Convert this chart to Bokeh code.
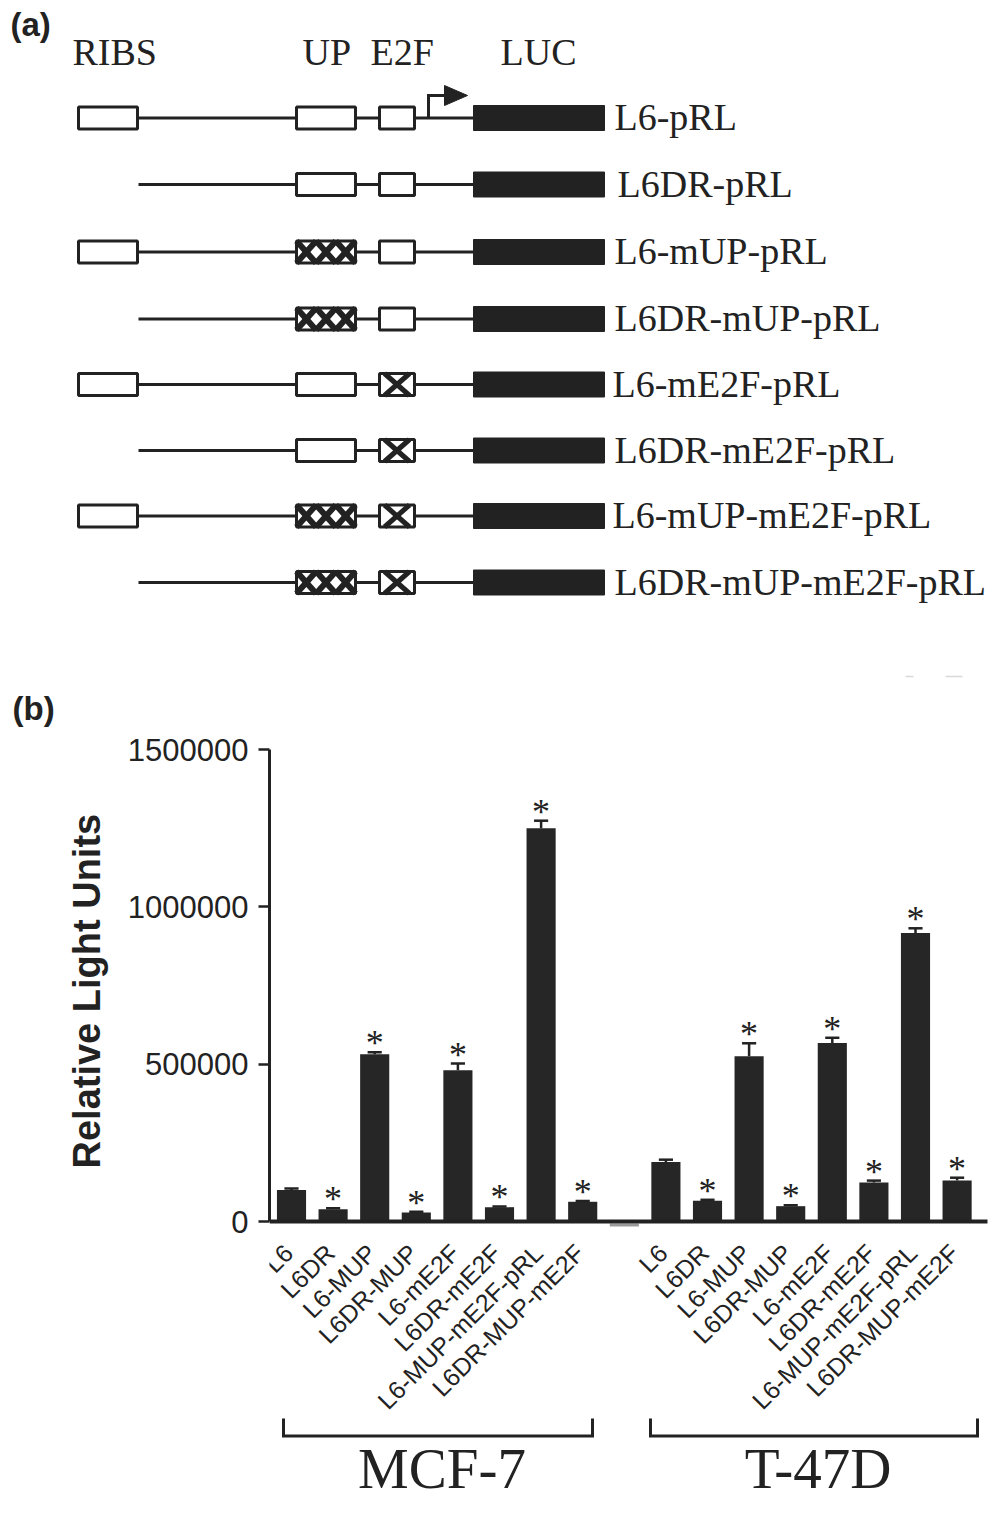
import math
from bokeh.plotting import figure
from bokeh.models import Range1d, FixedTicker, BasicTickFormatter, Title
from bokeh.core.properties import value
from bokeh.embed import file_html
from bokeh.resources import INLINE

# ---------------- data ----------------
constructs = ["L6-pRL", "L6DR-pRL", "L6-mUP-pRL", "L6DR-mUP-pRL",
              "L6-mE2F-pRL", "L6DR-mE2F-pRL", "L6-mUP-mE2F-pRL", "L6DR-mUP-mE2F-pRL"]
has_ribs = [1, 0, 1, 0, 1, 0, 1, 0]
up_mutated = [0, 0, 1, 1, 0, 0, 1, 1]
e2f_mutated = [0, 0, 0, 0, 1, 1, 1, 1]
element_names = ["RIBS", "UP", "E2F", "LUC"]

samples = ["L6", "L6DR", "L6-MUP", "L6DR-MUP", "L6-mE2F", "L6DR-mE2F",
           "L6-MUP-mE2F-pRL", "L6DR-MUP-mE2F"]
groups = ["MCF-7", "T-47D"]
mcf7_rlu = [100000, 39000, 532000, 28700, 481000, 45500, 1250000, 62700]
mcf7_sem = [5000, 3000, 6000, 2500, 21000, 2500, 24000, 2500]
mcf7_sig = [0, 1, 1, 1, 1, 1, 1, 1]
t47d_rlu = [189000, 66000, 525500, 48700, 567000, 124000, 917000, 130600]
t47d_sem = [7500, 3000, 41000, 3000, 17000, 6000, 15000, 8600]
t47d_sig = [0, 1, 1, 1, 1, 1, 1, 1]
y_ticks = [0, 500000, 1000000, 1500000]

# ---------------- style / layout ----------------
INK = "#222222"
BAR = "#262626"
SERIF = "Liberation Serif"
SANS = "Liberation Sans"
W = 1004
HTOT = 1514
HA = 728
HB = HTOT - HA

# ================= panel (a): construct diagrams =================
pa = figure(width=W, height=HA, x_range=Range1d(0, W), y_range=Range1d(HA, 0),
            output_backend="svg", toolbar_location=None, min_border=0,
            x_axis_location=None, y_axis_location=None)
pa.grid.visible = False
pa.outline_line_color = None

ROW_Y = [117.5, 184, 251.5, 318.5, 384, 450, 515.5, 582]
BOX_H = 22
LUC_H = 25
RIBS_X = (78, 137)
UP_X = (296, 355)
E2F_X = (379, 414)
LUC_X = (473, 604)
LABEL_X = [614, 617, 614, 614, 612, 614, 612, 614]

# backbone lines
pa.segment(x0=[RIBS_X[1] if r else 138 for r in has_ribs], x1=[LUC_X[0]] * 8,
           y0=ROW_Y, y1=ROW_Y, line_color=INK, line_width=3)

# RIBS boxes
rib_y = [y for y, r in zip(ROW_Y, has_ribs) if r]
pa.quad(left=RIBS_X[0], right=RIBS_X[1], top=[y - BOX_H / 2 for y in rib_y],
        bottom=[y + BOX_H / 2 for y in rib_y], fill_color="white", line_color=INK, line_width=3)

# UP / E2F boxes (white)
for bx in (UP_X, E2F_X):
    pa.quad(left=bx[0], right=bx[1], top=[y - BOX_H / 2 for y in ROW_Y],
            bottom=[y + BOX_H / 2 for y in ROW_Y], fill_color="white", line_color=None)

# mutated UP: XXX
xs0, xs1, ys0, ys1 = [], [], [], []
cw = (UP_X[1] - UP_X[0]) / 3
for y, m in zip(ROW_Y, up_mutated):
    if not m:
        continue
    t, b = y - BOX_H / 2, y + BOX_H / 2
    for i in range(3):
        a0 = UP_X[0] + i * cw
        a1 = a0 + cw
        xs0 += [a0, a0]; xs1 += [a1, a1]; ys0 += [t, b]; ys1 += [b, t]
pa.segment(x0=xs0, x1=xs1, y0=ys0, y1=ys1, line_color=INK, line_width=6)

# mutated E2F: X
xs0, xs1, ys0, ys1 = [], [], [], []
for y, m in zip(ROW_Y, e2f_mutated):
    if not m:
        continue
    t, b = y - BOX_H / 2, y + BOX_H / 2
    a0, a1 = E2F_X[0] + 5, E2F_X[1] - 5
    xs0 += [a0, a0]; xs1 += [a1, a1]; ys0 += [t, b]; ys1 += [b, t]
pa.segment(x0=xs0, x1=xs1, y0=ys0, y1=ys1, line_color=INK, line_width=5)

# box outlines on top
for bx in (UP_X, E2F_X):
    pa.quad(left=bx[0], right=bx[1], top=[y - BOX_H / 2 for y in ROW_Y],
            bottom=[y + BOX_H / 2 for y in ROW_Y], fill_color=None, line_color=INK, line_width=3)

# LUC boxes
pa.quad(left=LUC_X[0], right=LUC_X[1], top=[y - LUC_H / 2 for y in ROW_Y],
        bottom=[y + LUC_H / 2 for y in ROW_Y], fill_color=INK, line_color=INK, line_width=1)

# transcription start arrow (first construct)
ay = ROW_Y[0]
pa.line(x=[428, 428, 446], y=[ay, 95, 95], line_color=INK, line_width=3, line_join="miter")
pa.patch(x=[444, 444, 467], y=[85, 105, 95], fill_color=INK, line_color=INK)

# header and construct labels
pa.text(x=[72, 302, 370, 500], y=[51] * 4, text=element_names, text_font=value(SERIF),
        text_font_size="38px", text_color=INK, text_baseline="middle", text_align="left")
pa.text(x=LABEL_X, y=[y - 1 for y in ROW_Y], text=constructs, text_font=value(SERIF),
        text_font_size="38px", text_color=INK, text_baseline="middle", text_align="left")

# panel letters
pa.text(x=[10, 12], y=[23.5, 707.5], text=["(a)", "(b)"], text_font=value(SANS),
        text_font_style="bold", text_font_size="33px", text_color=INK,
        text_baseline="middle", text_align="left")

# faint scan marks
pa.segment(x0=[905, 945], x1=[913, 962], y0=[676, 676], y1=[676, 676],
           line_color="#d8d8d8", line_width=1.5)

# ================= panel (b): bar chart =================
PX_PER_UNIT = 314.6 / 1e6
BASE_PY = 1221
TOP_PY = HA
BOT_PY = HTOT
FIRST_PX = 291
PITCH = 41.6
AXIS_PX = 269


def yv(py):
    return (BASE_PY - py) / PX_PER_UNIT


def xv(px):
    return (px - FIRST_PX) / PITCH


pb = figure(width=W, height=HB,
            x_range=Range1d(xv(AXIS_PX), xv(W)),
            y_range=Range1d(yv(BOT_PY), yv(TOP_PY)),
            output_backend="svg", toolbar_location=None,
            min_border_left=AXIS_PX, min_border_right=0,
            min_border_top=0, min_border_bottom=0,
            x_axis_location=None)
pb.grid.visible = False
pb.outline_line_color = None

yax = pb.yaxis[0]
yax.bounds = (0, 1500000)
yax.ticker = FixedTicker(ticks=y_ticks)
yax.formatter = BasicTickFormatter(use_scientific=False)
yax.major_label_text_font = SANS
yax.major_label_text_font_size = "31px"
yax.major_label_text_color = INK
yax.major_label_standoff = 10
yax.major_tick_out = 11
yax.major_tick_in = 0
yax.major_tick_line_width = 2.5
yax.major_tick_line_color = INK
yax.minor_tick_out = 0
yax.minor_tick_in = 0
yax.axis_line_width = 3
yax.axis_line_color = INK

# y-axis title, placed along the 0..1.5M span (its lower end at y=1168 px)
LABEL_LOW_PY = 1168
pb.add_layout(Title(text="Relative Light Units", align="left", offset=BOT_PY - LABEL_LOW_PY,
                    text_font=SANS, text_font_style="bold", text_font_size="38px",
                    text_color=INK, standoff=34), "left")

n = len(samples)
mcf_x = list(range(n))
t_x = [n + 1 + i for i in range(n)]
gap_x = n

BAR_W = 0.70
CAP = 0.17

# spacer mark under the axis between groups
pb.segment(x0=[gap_x - 0.35], x1=[gap_x + 0.35], y0=[yv(1224.5)], y1=[yv(1224.5)],
           line_color="#9a9a9a", line_width=3)

for xs, vals, errs, sig in ((mcf_x, mcf7_rlu, mcf7_sem, mcf7_sig),
                            (t_x, t47d_rlu, t47d_sem, t47d_sig)):
    tops = [v + e for v, e in zip(vals, errs)]
    pb.segment(x0=xs, x1=xs, y0=vals, y1=tops, line_color=INK, line_width=2.5)
    pb.segment(x0=[x - CAP for x in xs], x1=[x + CAP for x in xs], y0=tops, y1=tops,
               line_color=INK, line_width=2.5)
    pb.vbar(x=xs, top=vals, bottom=0, width=BAR_W, fill_color=BAR, line_color=None)
    sx = [x for x, s in zip(xs, sig) if s]
    sy = [t for t, s in zip(tops, sig) if s]
    pb.text(x=sx, y=sy, text=["*"] * len(sx), text_font=value(SERIF), text_font_size="36px",
            text_color=INK, text_align="center", text_baseline="middle", y_offset=-9)

# x baseline
pb.segment(x0=[xv(AXIS_PX)], x1=[xv(987)], y0=[0], y1=[0], line_color=INK, line_width=4)

# rotated category labels
pb.text(x=mcf_x + t_x, y=[0] * (2 * n), text=samples + samples, angle=math.pi / 4,
        text_align="right", text_baseline="middle", text_font=value(SANS),
        text_font_size="25px", text_color=INK, x_offset=-3, y_offset=27)

# group brackets
BR_Y = yv(1435.5)
BR_TOP = yv(1418)
br = [(xv(283), xv(592)), (xv(650), xv(977))]
pb.multi_line(xs=[[l, l, r, r] for l, r in br], ys=[[BR_TOP, BR_Y, BR_Y, BR_TOP]] * 2,
              line_color=INK, line_width=3, line_join="miter")
pb.text(x=[(l + r) / 2 + 4 / PITCH for l, r in br], y=[yv(1468)] * 2, text=groups,
        text_font=value(SERIF), text_font_size="57px", text_color=INK,
        text_align="center", text_baseline="middle")

open("out.html", "w").write(file_html([pa, pb], INLINE))
